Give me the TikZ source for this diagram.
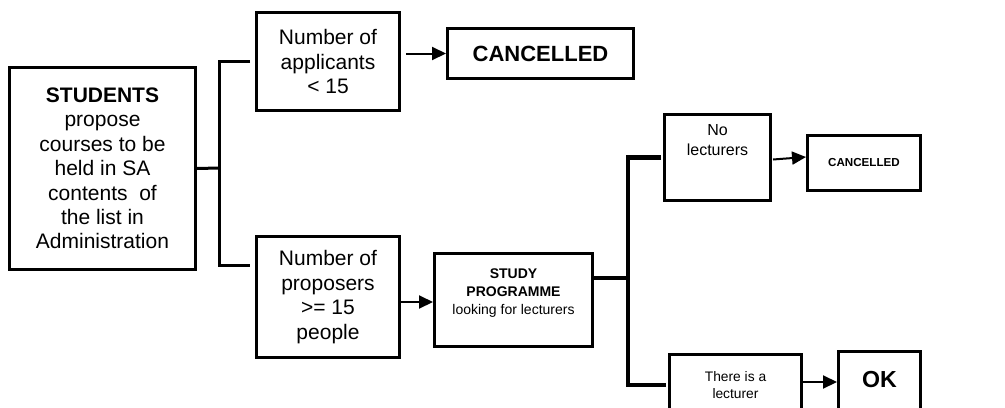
\documentclass[tikz,border=0pt]{standalone}
\usepackage{fontspec}
\setmainfont{Liberation Sans}
\usepackage{tikz}
\usetikzlibrary{arrows.meta, positioning}

\tikzset{
    box/.style={draw, line width=1.5pt, align=center, inner sep=0pt},
    bracket/.style={line width=1.5pt},
    thickbracket/.style={line width=2.3pt},
    arr/.style={line width=1pt, -{Triangle[length=7pt,width=6.5pt]}},
}

\begin{document}
\begin{tikzpicture}[x=0.5pt, y=-0.5pt]
        \useasboundingbox (0,0) rectangle (1005,407);

        % Left part
        \node[box, minimum width=93pt, minimum height=101pt,
              font=\fontsize{10.5}{12.2}\selectfont] (students) at (102.5,168.5)
              {\textbf{STUDENTS}\\propose\\courses to be\\held in SA\\contents\ \ of\\the list in\\Administration};
        \node[box, minimum width=71.5pt, minimum height=49pt,
              font=\fontsize{10.5}{12.2}\selectfont] (applicants) at (328,61.5)
              {Number of\\applicants\\< 15};
        \node[box, minimum width=71.5pt, minimum height=60.5pt,
              font=\fontsize{10.5}{12.2}\selectfont] (proposers) at (328,297)
              {Number of\\proposers\\>= 15\\people};
        \node[box, minimum width=93pt, minimum height=25pt,
              font=\fontsize{11}{12}\selectfont\bfseries] (cancelA) at (540.5,53.5)
              {CANCELLED};

        % Right part
        \node[box, minimum width=79pt, minimum height=46.5pt, text depth=8pt,
              font=\fontsize{7}{9}\selectfont] (programme) at (513.5,300)
              {\textbf{STUDY}\\\textbf{PROGRAMME}\\looking for lecturers};
        \node[box, minimum width=53pt, minimum height=43pt, text depth=17.5pt,
              font=\fontsize{8}{10.3}\selectfont] (nolect) at (717.5,157.5)
              {No\\lecturers};
        \node[box, minimum width=56.5pt, minimum height=27.5pt,
              font=\fontsize{5.8}{7}\selectfont\bfseries] (cancelB) at (864,163)
              {CANCELLED};
        \node[box, minimum width=66pt, minimum height=31pt,
              font=\fontsize{6.9}{8.5}\selectfont] (lecturer) at (735.5,385)
              {There is a\\lecturer};
        \node[box, minimum width=41pt, minimum height=29pt,
              font=\fontsize{11.6}{13}\selectfont\bfseries] (ok) at (879.5,380)
              {OK};

        % Brackets
        \coordinate (joinA) at (219,168);
        \coordinate (joinB) at (628,278);
        \draw[bracket] (students.east) -- (joinA);
        \draw[bracket] ([xshift=-2.5pt]applicants.west) -| (joinA)
            |- ([shift={(-5,30)}]proposers.north west);
        \draw[thickbracket] (programme.east |- joinB) -- (joinB);
        \draw[thickbracket] ([xshift=-1pt]nolect.west) -| (joinB)
            |- ([xshift=-1pt]lecturer.west);

        % Arrows
        \coordinate (propout) at ([shift={(-3,5)}]proposers.east);
        \draw[arr] ([xshift=2.5pt]cancelA.west -| applicants.east) -- (cancelA.west);
        \draw[arr] (propout) -- (programme.west |- propout);
        \draw[arr] ([shift={(1,2)}]nolect.east) -- ([yshift=3pt]cancelB.west);
        \draw[arr] ([yshift=1.5pt]lecturer.east) -- ([yshift=-1pt]ok.west);
\end{tikzpicture}
\end{document}
